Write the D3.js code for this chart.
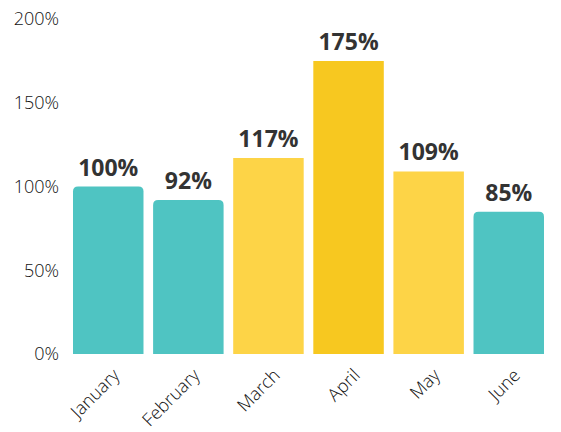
<!DOCTYPE html>
<html>
<head>
<meta charset="utf-8">
<script src="https://cdn.jsdelivr.net/npm/d3@7"></script>
<style>
  body { margin: 0; background: #fff; }
  svg text { font-family: "Open Sans", sans-serif; fill: #111; }
</style>
</head>
<body>
<svg id="chart" width="561" height="432"></svg>
<script>
const months = ['January', 'February', 'March', 'April', 'May', 'June'];
const values = [100, 92, 117, 175, 109, 85];
const barColors = ['#4fc4c2', '#4fc4c2', '#fdd447', '#f7c820', '#fdd447', '#4fc4c2'];
const yTicks = [0, 50, 100, 150, 200];

const svg = d3.select('#chart');

const x = d3.scaleBand()
  .domain(months)
  .range([69, 548])
  .paddingInner(0.12)
  .paddingOuter(0.05);

const y = d3.scaleLinear()
  .domain([0, 200])
  .range([354, 19]);

// y axis labels only
const yAxis = svg.append('g')
  .attr('transform', 'translate(59,0)')
  .call(d3.axisLeft(y).tickValues(yTicks).tickSize(0).tickPadding(0).tickFormat(d => d + '%'));
yAxis.select('.domain').remove();
yAxis.selectAll('text')
  .style('font-size', '18px')
  .style('font-weight', 300);

// bars: teal ones get rounded tops
function barPath(d, i) {
  const x0 = x(months[i]), w = x.bandwidth();
  const y0 = y(d), y1 = y(0);
  const r = barColors[i] === '#4fc4c2' ? 5 : 0;
  return `M${x0},${y1}V${y0 + r}Q${x0},${y0} ${x0 + r},${y0}H${x0 + w - r}Q${x0 + w},${y0} ${x0 + w},${y0 + r}V${y1}Z`;
}

svg.append('g')
  .selectAll('path')
  .data(values)
  .join('path')
  .attr('d', barPath)
  .attr('fill', (d, i) => barColors[i]);

// value labels
svg.append('g')
  .selectAll('text')
  .data(values)
  .join('text')
  .attr('x', (d, i) => x(months[i]) + x.bandwidth() / 2)
  .attr('y', d => y(d) - 11)
  .attr('text-anchor', 'middle')
  .style('font-size', '23px')
  .style('font-weight', 700)
  .style('fill', '#333')
  .text(d => d + '%');

// rotated month labels
svg.append('g')
  .selectAll('text')
  .data(months)
  .join('text')
  .attr('transform', d => `translate(${x(d) + x.bandwidth() / 2 + 8},${372}) rotate(-45)`)
  .attr('text-anchor', 'end')
  .attr('dy', '0.35em')
  .style('font-size', '18px')
  .style('font-weight', 300)
  .text(d => d);
</script>
</body>
</html>
